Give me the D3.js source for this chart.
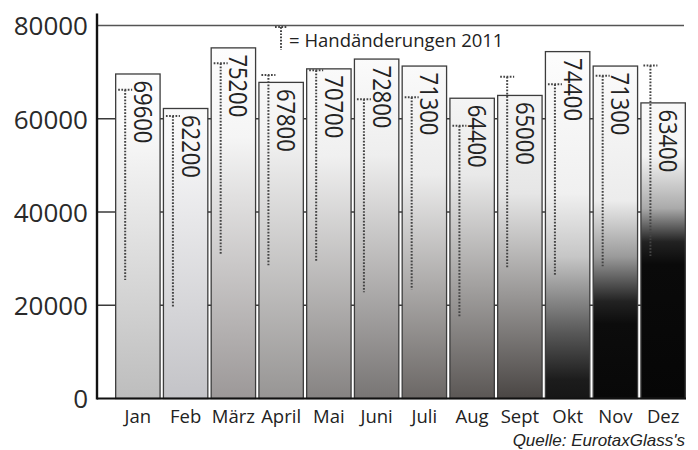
<!DOCTYPE html>
<html>
<head>
<meta charset="utf-8">
<script src="https://cdn.jsdelivr.net/npm/d3@7"></script>
<style>
  html, body { margin: 0; padding: 0; background: #fff; }
  svg { display: block; }
</style>
</head>
<body>
<svg id="chart" width="698" height="450"></svg>
<script>
// Monthly figures 2011
const months = ["Jan", "Feb", "März", "April", "Mai", "Juni", "Juli", "Aug", "Sept", "Okt", "Nov", "Dez"];
const values = [69600, 62200, 75200, 67800, 70700, 72800, 71300, 64400, 65000, 74400, 71300, 63400];
// Handänderungen 2011: dotted range per month (upper and lower end)
const handTop = [66200, 60600, 71900, 69400, 70400, 64200, 64600, 58500, 69000, 67400, 69200, 71400];
const handBottom = [25400, 19700, 30900, 28600, 29400, 22800, 23400, 17400, 28100, 26400, 28100, 30500];
const yTicks = [0, 20000, 40000, 60000, 80000];
const yTickLabels = ["0", "20000", "40000", "60000", "80000"];
const legendText = "= Handänderungen 2011";
const sourceText = "Quelle: EurotaxGlass's";

// Per-bar fill gradients (offset along the value axis, 0 = top, 1 = baseline)
const barShades = [
  [[0, "#ffffff"], [0.25, "#fbfbfb"], [1, "#bdbdbd"]],
  [[0, "#ffffff"], [0.3, "#f8f8f9"], [1, "#c3c3c7"]],
  [[0, "#ffffff"], [0.3, "#f5f5f5"], [1, "#9c9898"]],
  [[0, "#ffffff"], [0.3, "#f2f2f2"], [1, "#979594"]],
  [[0, "#ffffff"], [0.35, "#f0f0f0"], [1, "#868382"]],
  [[0, "#ffffff"], [0.35, "#eeeeee"], [1, "#787574"]],
  [[0, "#ffffff"], [0.4, "#ececec"], [1, "#6b6765"]],
  [[0, "#ffffff"], [0.4, "#e9e9e9"], [1, "#5b5755"]],
  [[0, "#ffffff"], [0.45, "#e6e6e6"], [1, "#4a4644"]],
  [[0, "#ffffff"], [0.45, "#f0f0f0"], [0.62, "#c6c6c6"], [0.82, "#5a5a5a"], [0.95, "#1c1c1c"], [1, "#161616"]],
  [[0, "#ffffff"], [0.47, "#ececec"], [0.62, "#9a9a9a"], [0.74, "#222222"], [0.8, "#0c0c0c"], [1, "#080808"]],
  [[0, "#ffffff"], [0.35, "#f4f4f4"], [0.49, "#aaaaaa"], [0.58, "#222222"], [0.64, "#0a0a0a"], [1, "#060606"]]
];

const svg = d3.select("#chart");
const axisX = 97;
const plotRight = 686;

const x = d3.scaleBand().domain(months).range([114, 687]).paddingInner(0.07).paddingOuter(0.035);
const y = d3.scaleLinear().domain([0, 80000]).range([398.5, 25.5]);

const defs = svg.append("defs");
barShades.forEach((stops, i) => {
  const g = defs.append("linearGradient")
    .attr("id", "shade" + i)
    .attr("gradientUnits", "userSpaceOnUse")
    .attr("x1", 0).attr("x2", 0)
    .attr("y1", y(80000)).attr("y2", y(0));
  stops.forEach(s => g.append("stop").attr("offset", s[0]).attr("stop-color", s[1]));
});

// Gridlines behind the bars
svg.append("g")
  .selectAll("line")
  .data(yTicks.filter(t => t > 0))
  .join("line")
  .attr("x1", axisX).attr("x2", plotRight - 2)
  .attr("y1", d => y(d)).attr("y2", d => y(d))
  .attr("stroke", d => d === 80000 ? "#555" : "#3a3a3a")
  .attr("stroke-width", 1.4);

// Bars
svg.append("g")
  .selectAll("rect")
  .data(months)
  .join("rect")
  .attr("x", d => x(d))
  .attr("y", (d, i) => y(values[i]))
  .attr("width", x.bandwidth())
  .attr("height", (d, i) => y(0) - y(values[i]))
  .attr("fill", (d, i) => `url(#shade${i})`)
  .attr("stroke", "#3c3c3c")
  .attr("stroke-width", 1.3);

// Dotted Handänderungen markers
const hand = svg.append("g").attr("stroke", "#444").attr("stroke-width", 2)
  .attr("stroke-dasharray", "1.7,1.5").attr("fill", "none");
months.forEach((m, i) => {
  const cx = x(m) + 9.5;
  hand.append("line")
    .attr("x1", cx).attr("x2", cx)
    .attr("y1", y(handTop[i])).attr("y2", y(handBottom[i]));
  hand.append("line")
    .attr("x1", cx - 7).attr("x2", cx + 7)
    .attr("y1", y(handTop[i])).attr("y2", y(handTop[i]));
});

// Value labels, rotated, inside the bars
svg.append("g")
  .selectAll("text")
  .data(months)
  .join("text")
  .attr("transform", (d, i) =>
    `translate(${x(d) + x.bandwidth() / 2 - 4},${y(values[i]) + 6.5}) rotate(90) scale(0.88,1)`)
  .attr("font-family", "'Open Sans', sans-serif")
  .attr("font-size", 25)
  .attr("fill", "#222")
  .text((d, i) => values[i]);

// Y axis labels
const yAxis = d3.axisLeft(y).tickValues(yTicks)
  .tickFormat((d, i) => yTickLabels[i]).tickSize(0).tickPadding(9);
const yg = svg.append("g").attr("transform", `translate(${axisX},0)`).call(yAxis);
yg.select(".domain").remove();
yg.selectAll("text")
  .attr("font-family", "'Open Sans', sans-serif")
  .attr("font-size", 26)
  .attr("fill", "#2a2a2a")
  .attr("dy", "0.36em");

// X axis labels
const xAxis = d3.axisBottom(x).tickSize(0).tickPadding(11);
const xg = svg.append("g").attr("transform", `translate(0,${y(0)})`).call(xAxis);
xg.select(".domain").remove();
xg.selectAll("text")
  .attr("font-family", "'Open Sans', sans-serif")
  .attr("font-size", 18.5)
  .attr("fill", "#222");

// Axis lines
svg.append("line")
  .attr("x1", axisX).attr("x2", axisX)
  .attr("y1", y(80000) - 12).attr("y2", y(0) + 1)
  .attr("stroke", "#111").attr("stroke-width", 2.4);
svg.append("line")
  .attr("x1", axisX).attr("x2", plotRight)
  .attr("y1", y(0)).attr("y2", y(0))
  .attr("stroke", "#111").attr("stroke-width", 2.2);

// Legend
const lx = 281, ly = 27;
const lg = svg.append("g").attr("stroke", "#444").attr("stroke-width", 2)
  .attr("stroke-dasharray", "1.7,1.5");
lg.append("line").attr("x1", lx).attr("x2", lx).attr("y1", ly).attr("y2", ly + 23);
lg.append("line").attr("x1", lx - 6).attr("x2", lx + 6).attr("y1", ly).attr("y2", ly);
svg.append("text")
  .attr("x", 289).attr("y", 47)
  .attr("font-family", "'Open Sans', sans-serif")
  .attr("font-size", 18.5)
  .attr("fill", "#222")
  .text(legendText);

// Source note
svg.append("text")
  .attr("x", 685).attr("y", 445.5)
  .attr("text-anchor", "end")
  .attr("font-family", "'Liberation Sans', Arial, sans-serif")
  .attr("font-style", "italic")
  .attr("font-size", 17)
  .attr("fill", "#222")
  .text(sourceText);
</script>
</body>
</html>
